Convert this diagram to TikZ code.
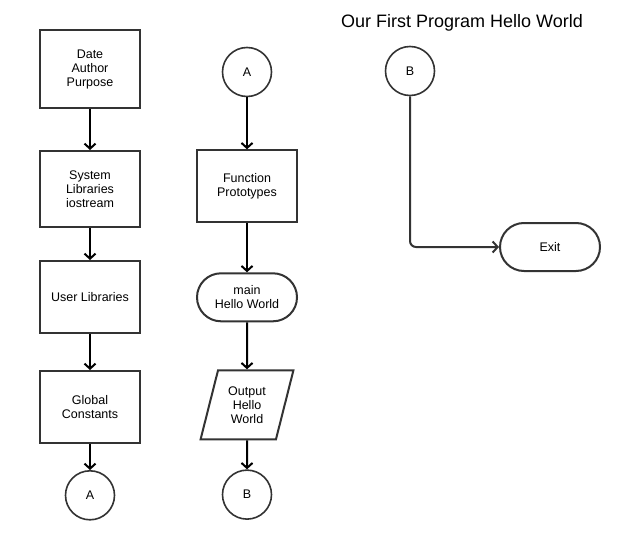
\documentclass[tikz,border=0pt]{standalone}
\usepackage{fontspec}
\setmainfont{Liberation Sans}
\usetikzlibrary{positioning,arrows.meta,shapes.geometric}
\definecolor{edgegray}{HTML}{333333}

\begin{document}
\begin{tikzpicture}[
    x=1pt, y=-1pt,
    every node/.style={font=\fontsize{12.5}{14}\selectfont},
    procbox/.style={
        draw=edgegray, line width=2pt, rectangle,
        minimum width=100pt, minimum height=#1, align=center
    },
    termbox/.style={
        draw=edgegray, line width=2pt, rectangle, rounded corners=24pt,
        minimum width=100pt, minimum height=48pt, align=center
    },
    iobox/.style={
        draw=edgegray, line width=2pt, trapezium,
        trapezium left angle=73, trapezium right angle=107,
        trapezium stretches=true,
        minimum width=93pt, minimum height=69pt, align=center
    },
    conn/.style={
        draw=edgegray, line width=1.6pt, circle, minimum size=49pt
    },
    flow/.style={-{Straight Barb[length=5pt, width=11pt, line width=2pt]},
        line width=2pt, color=black},
]
\useasboundingbox (0,0) rectangle (639,540);

% === Title ===
\node[font=\fontsize{18}{22}\selectfont] (title) at (462,23) {Our First Program Hello World};

% ============================
% LEFT COLUMN
% ============================
\node[procbox=78pt] (hdr) at (90,69) {Date\\Author\\Purpose};
\node[procbox=76pt, below=41pt of hdr] (syslib) {System\\Libraries\\iostream};
\node[procbox=72pt, below=32pt of syslib] (usrlib) {User Libraries};
\node[procbox=72pt, below=36pt of usrlib] (glob) {Global\\Constants};
\node[conn, below=26pt of glob] (outA) {A};

\draw[flow] (hdr) -- (syslib);
\draw[flow] (syslib) -- (usrlib);
\draw[flow] (usrlib) -- (glob);
\draw[flow] (glob) -- (outA);

% ============================
% MIDDLE COLUMN
% ============================
\node[conn] (inA) at (247,72) {A};
\node[procbox=72pt, below=52pt of inA] (proto) {Function\\Prototypes};
\node[termbox, below=49pt of proto] (mainfn) {main\\Hello World};
\node[iobox, below=47pt of mainfn] (output) {Output\\Hello\\World};
\node[conn, below=29pt of output] (outB) {B};

\draw[flow] (inA) -- (proto);
\draw[flow] (proto) -- (mainfn);
\draw[flow] (mainfn) -- (output);
\draw[flow] (output) -- (outB);

% ============================
% RIGHT COLUMN
% ============================
\node[conn] (inB) at (410,71) {B};
\node[termbox] (exit) at (550,247) {Exit};

\draw[flow, color=edgegray, rounded corners=6pt] (inB.south) |- (exit.west);

\end{tikzpicture}
\end{document}
